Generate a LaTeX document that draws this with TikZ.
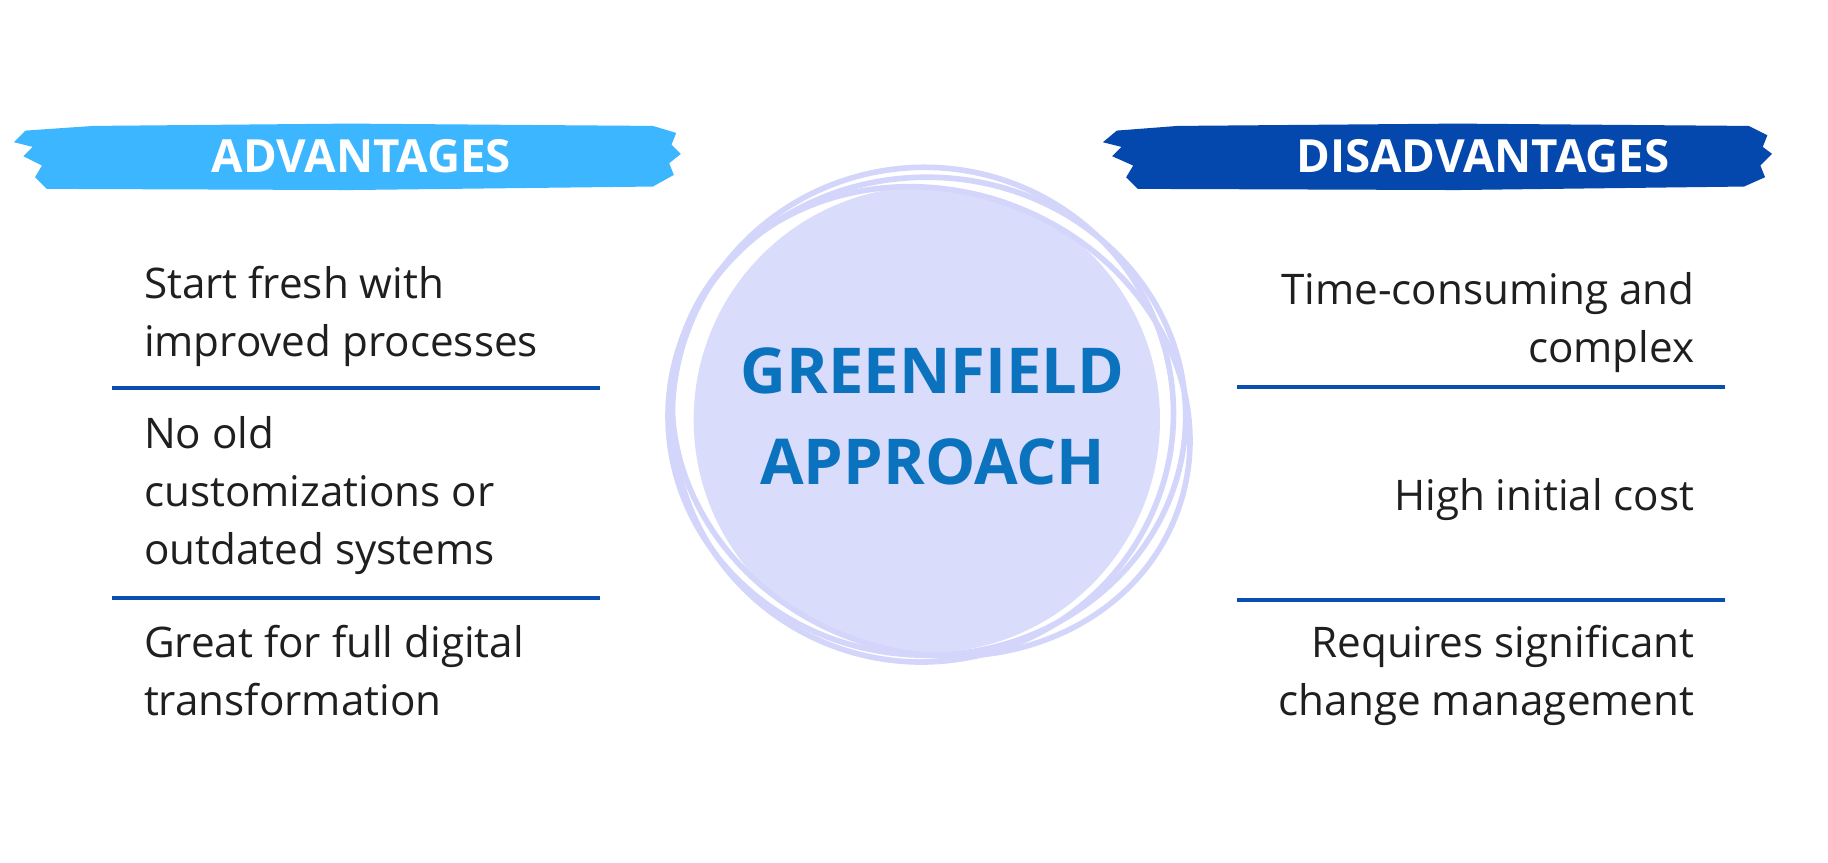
\documentclass[tikz,border=0pt]{standalone}
\usepackage{fontspec}
\setmainfont{Open Sans}
\definecolor{advblue}{HTML}{3BB6FF}
\definecolor{disblue}{HTML}{0548AD}
\definecolor{ringfill}{HTML}{DADCFB}
\definecolor{ringline}{HTML}{D3D6FA}
\definecolor{titleblue}{HTML}{0B72BE}
\definecolor{ruleblue}{HTML}{0A4FB0}
\begin{document}
\begin{tikzpicture}[x=0.011658cm, y=-0.011658cm,
    banner/.style={font=\fontsize{13}{15}\selectfont\bfseries, text=white},
    item/.style={font=\fontsize{12}{16.5}\selectfont, text=black!88, inner sep=0pt},
    divider/.style={draw=ruleblue, line width=1.1pt},
    ring/.style={draw=ringline, line width=1.6pt}
]
    % canvas
    \useasboundingbox (0,0) rectangle (1568,740);

    % brush banners
    \fill[advblue] (12,122) -- (22,112) -- (80,108) -- (300,106) -- (560,108) -- (580,114)
        -- (576,124) -- (584,132) -- (574,140) -- (578,150) -- (560,160) -- (300,163)
        -- (40,162) -- (30,152) -- (36,142) -- (20,134) -- (28,126) -- cycle;
    \fill[disblue] (946,122) -- (958,112) -- (1010,108) -- (1250,106) -- (1500,108) -- (1516,116)
        -- (1512,126) -- (1520,132) -- (1510,142) -- (1514,152) -- (1496,160) -- (1250,163)
        -- (976,162) -- (966,152) -- (972,142) -- (954,134) -- (962,126) -- cycle;
    \node[banner] (adv) at (310,134) {ADVANTAGES};
    \node[banner] (dis) at (1272,134) {DISADVANTAGES};

    % centre circle
    \fill[ringfill] (795,360) circle (200);
    \draw[ring] (795,357) ellipse (222 and 205);
    \draw[ring, rotate around={12:(795,357)}] (792,355) ellipse (215 and 212);
    \draw[ring, rotate around={-20:(795,357)}] (800,360) ellipse (225 and 198);
    \node[font=\fontsize{18}{22}\selectfont\bfseries, text=titleblue, align=center] (title) at (800,357)
        {GREENFIELD\\[4pt]APPROACH};

    % advantages
    \node[item, anchor=north west, align=left] (a1) at (123,228) {Start fresh with\\improved processes};
    \node[item, anchor=north west, align=left] (a2) at (123,357) {No old\\customizations or\\outdated systems};
    \node[item, anchor=north west, align=left] (a3) at (123,536) {Great for full digital\\transformation};
    \draw[divider] (96,333) -- (515,333);
    \draw[divider] (96,513) -- (515,513);

    % disadvantages
    \node[item, anchor=north east, align=right] (d1) at (1454,233) {Time-consuming and\\complex};
    \node[item, anchor=north east, align=right] (d2) at (1454,410) {High initial cost};
    \node[item, anchor=north east, align=right] (d3) at (1454,536) {Requires significant\\change management};
    \draw[divider] (1061,332) -- (1480,332);
    \draw[divider] (1061,515) -- (1480,515);
\end{tikzpicture}
\end{document}
